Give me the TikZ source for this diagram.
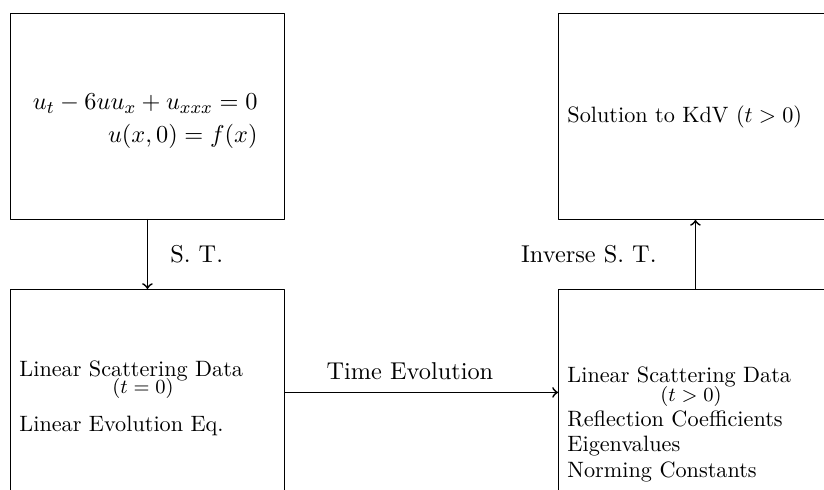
\documentclass[tikz,border=0pt,11pt]{standalone}
\usepackage{amsmath}
\usetikzlibrary{positioning}
\tikzset{
  every picture/.style={line join=round, line cap=round},
  box/.style={draw, line width=0.4pt, minimum width=123.3pt, minimum height=92.7pt, inner sep=0pt, anchor=north west},
  flow/.style={->, line width=0.8pt},
  boxtext/.style={font=\small, anchor=base west, inner sep=0pt},
  subtext/.style={font=\footnotesize, anchor=base, inner sep=0pt},
}

\begin{document}
\begin{tikzpicture}[x=0.45pt,y=-0.45pt]
\useasboundingbox (0,0) rectangle (824,490);
\clip (0,0) rectangle (824,490);
\node[box] (kdv) at (10,13) {};
\node[box] (soln) at (558,13) {};
\node[box] (lsd0) at (10,289) {};
\node[box] (lsdt) at (558,289) {};
\node[anchor=base east, inner sep=0pt] (eqa) at (258,110) {$u_t - 6uu_x + u_{xxx} = 0$};
\node[anchor=base east, inner sep=0pt] (eqb) at (258,143) {$u(x,0) = f(x)$};
\node[boxtext] (sol) at (567,123) {Solution to KdV $(t>0)$};
\node[boxtext] (lsda) at (19,377) {Linear Scattering Data};
\node[subtext] (tz) at (143,394) {$(t=0)$};
\node[boxtext] (lee) at (19,432) {Linear Evolution Eq.};
\node[boxtext] (lsdb) at (567,383) {Linear Scattering Data};
\node[subtext] (tp) at (691,402) {$(t>0)$};
\node[boxtext] (rc) at (567,427) {Reflection Coefficients};
\node[boxtext] (ev) at (567,452) {Eigenvalues};
\node[boxtext] (nc) at (567,478) {Norming Constants};
\draw[flow] (kdv) -- node[right=6.25pt]{S. T.} (lsd0);
\draw[flow] (lsd0) -- node[above=1.8pt, xshift=-5.2pt]{Time Evolution} (lsdt);
\draw[flow] (lsdt) -- node[left=13.45pt]{Inverse S. T.} (soln);
\end{tikzpicture}
\end{document}
